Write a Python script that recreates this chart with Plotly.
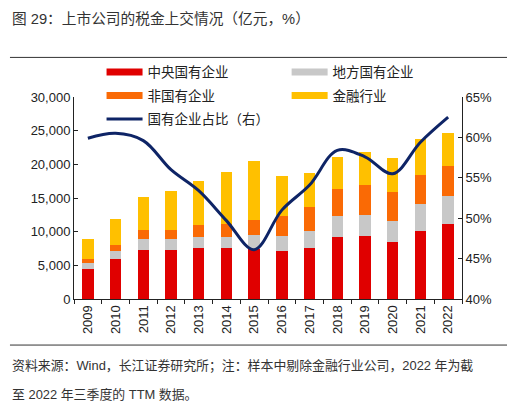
import plotly.graph_objects as go

output_file = "out.html"

years = ["2009", "2010", "2011", "2012", "2013", "2014", "2015",
         "2016", "2017", "2018", "2019", "2020", "2021", "2022"]

# 亿元 (stacked segments)
central_soe = [4450, 5900, 7280, 7280, 7620, 7620, 7500, 7180, 7520, 9260, 9400, 8460, 10150, 11190]
local_soe = [945, 1190, 1630, 1630, 1630, 1630, 2000, 2120, 2630, 3070, 3120, 3170, 3910, 4110]
non_soe = [545, 990, 1340, 1390, 1730, 1880, 2230, 3030, 3510, 4060, 4410, 4310, 4350, 4450]
finance = [3020, 3810, 4850, 5690, 6480, 7670, 8810, 5940, 5050, 4760, 4900, 5000, 5350, 4850]

# %, right axis
soe_share = [59.9, 60.5, 59.6, 56.0, 53.4, 49.7, 46.1, 51.0, 54.1, 58.4, 57.6, 55.5, 59.4, 62.5]

bar_series = [
    ("中央国有企业", central_soe, "#E00000", "legend"),
    ("地方国有企业", local_soe, "#C8C8C8", "legend2"),
    ("非国有企业", non_soe, "#FA6A05", "legend"),
    ("金融行业", finance, "#FFC000", "legend2"),
]
line_name = "国有企业占比（右）"
line_color = "#0E2466"

font_family = "Liberation Sans, Arial, Noto Sans CJK SC"

fig = go.Figure()

for name, values, color, _ in bar_series:
    fig.add_trace(go.Bar(x=years, y=values, name=name, marker_color=color,
                         marker_line_width=0, showlegend=False))

fig.add_trace(go.Scatter(x=years, y=soe_share, name=line_name, yaxis="y2",
                         mode="lines", line=dict(color=line_color, width=3, shape="spline", smoothing=1),
                         showlegend=False))

# legend entries drawn as wide swatches, two columns
for i, (name, values, color, leg) in enumerate(bar_series):
    fig.add_trace(go.Scatter(x=[None], y=[None], name=name, mode="lines", legend=leg,
                             legendgroup=f"g{i}", line=dict(color=color, width=7)))
fig.add_trace(go.Scatter(x=[None], y=[None], name=line_name, mode="lines", legend="legend",
                         legendgroup="g9", line=dict(color=line_color, width=3)))

legend_common = dict(
    orientation="v",
    yanchor="top",
    y=1.2,
    itemwidth=36,
    traceorder="grouped",
    tracegroupgap=3,
    font=dict(size=13.5),
    bgcolor="rgba(0,0,0,0)",
)

fig.update_layout(
    width=523,
    height=418,
    barmode="stack",
    bargap=0.59,
    plot_bgcolor="white",
    paper_bgcolor="white",
    font=dict(family=font_family, size=13, color="#222222"),
    margin=dict(l=74, r=61, t=97, b=119, autoexpand=False),
    showlegend=True,
    legend=dict(x=0.071, xanchor="left", **legend_common),
    legend2=dict(x=0.548, xanchor="left", **legend_common),
    xaxis=dict(
        type="category",
        showline=True, linecolor="#222222", linewidth=1,
        ticks="outside", tickson="boundaries", ticklen=4, tickcolor="#222222",
        tickangle=-90, tickfont=dict(size=13),
        showgrid=False,
    ),
    yaxis=dict(
        range=[0, 30000], dtick=5000, tickformat=",",
        showline=True, linecolor="#222222", linewidth=1,
        ticks="inside", ticklen=4, tickcolor="#222222",
        showgrid=False, zeroline=False,
    ),
    yaxis2=dict(
        overlaying="y", side="right",
        range=[40, 65], dtick=5, ticksuffix="%",
        showline=True, linecolor="#222222", linewidth=1,
        ticks="inside", ticklen=4, tickcolor="#222222",
        showgrid=False, zeroline=False,
    ),
)

fig.add_annotation(text="图 29：上市公司的税金上交情况（亿元，%）", xref="paper", yref="paper",
                   x=-0.165, y=1.39, xanchor="left", yanchor="middle", showarrow=False,
                   font=dict(size=14.7, color="#333333"))

fig.add_annotation(text="资料来源：Wind，长江证券研究所；注：样本中剔除金融行业公司，2022 年为截",
                   xref="paper", yref="paper", x=-0.165, y=-0.33, xanchor="left", yanchor="middle",
                   showarrow=False, font=dict(size=12.9, color="#333333"))
fig.add_annotation(text="至 2022 年三季度的 TTM 数据。",
                   xref="paper", yref="paper", x=-0.165, y=-0.475, xanchor="left", yanchor="middle",
                   showarrow=False, font=dict(size=12.9, color="#333333"))

# horizontal rules above and below the chart
for y_rule in [1.196, -0.228]:
    fig.add_shape(type="line", xref="paper", yref="paper", x0=-0.165, x1=1.116,
                  y0=y_rule, y1=y_rule, line=dict(color="#333333", width=1))

# drop the default page margin so the figure sits at the window's corner
fig.write_html(output_file, config={"displayModeBar": False},
               post_script="document.body.style.margin = '0';")
